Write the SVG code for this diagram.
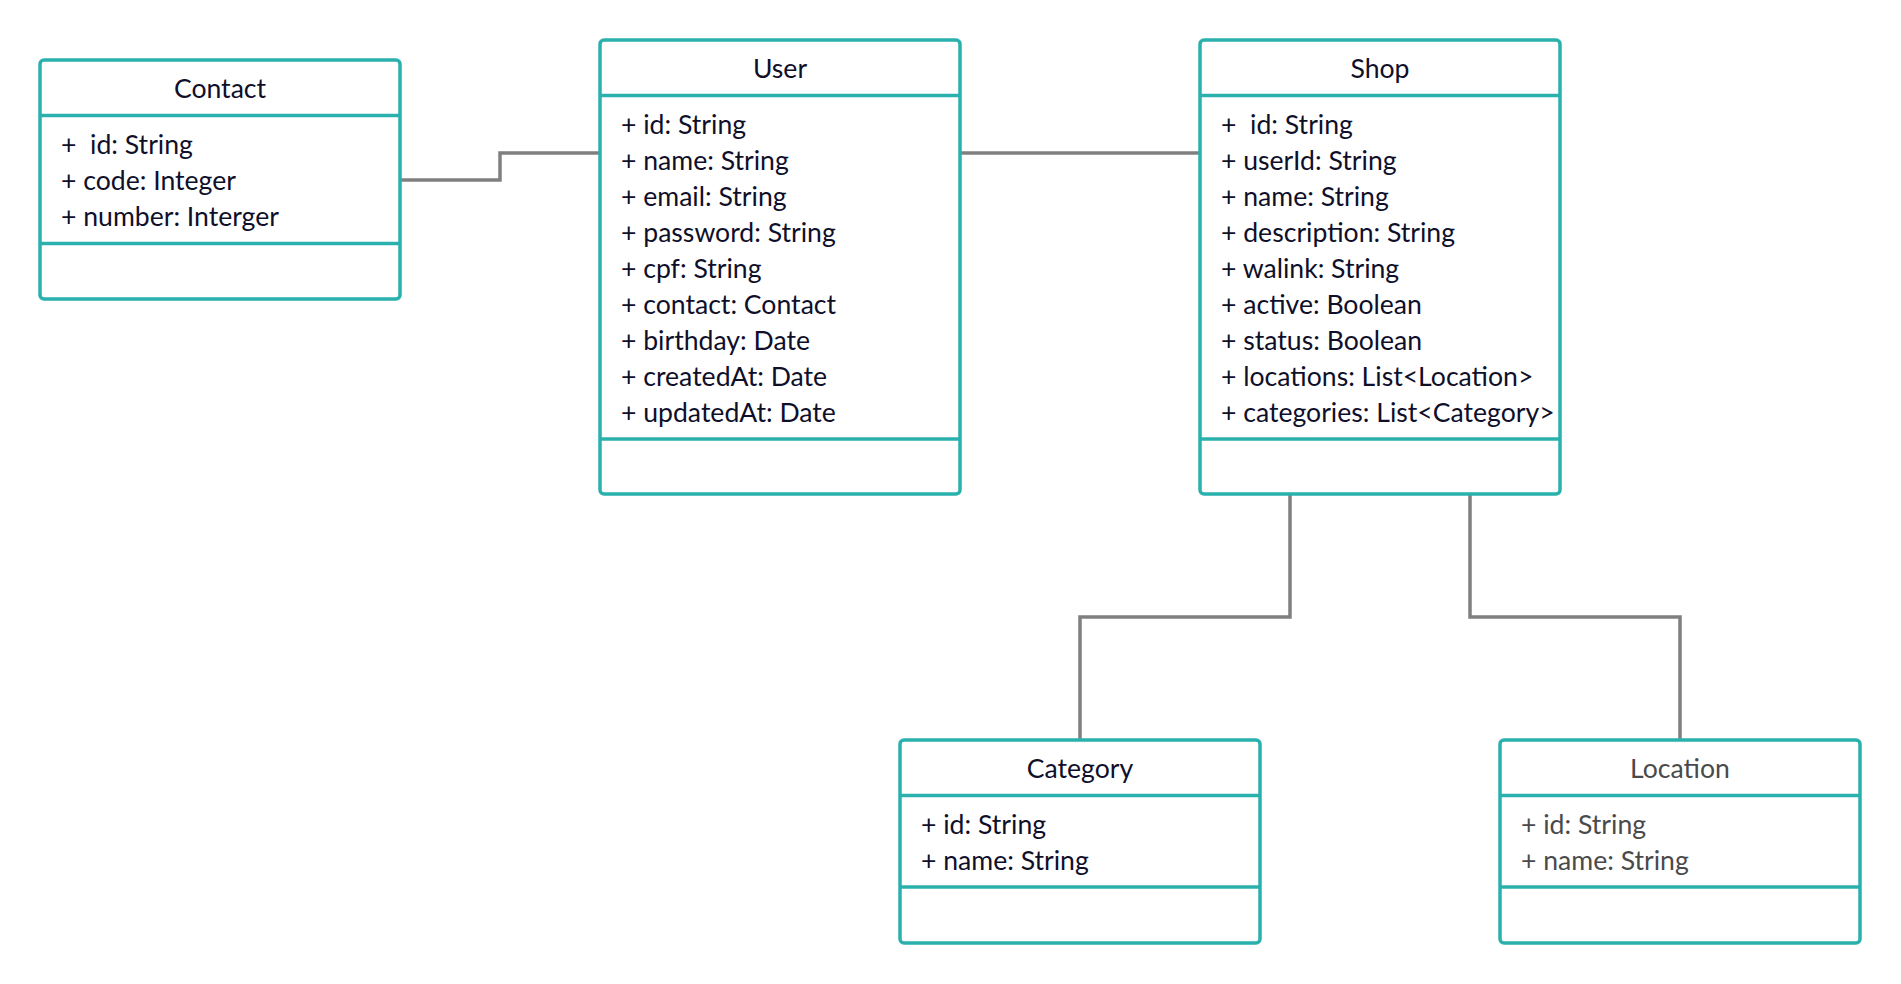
<svg xmlns="http://www.w3.org/2000/svg" width="1901" height="984" viewBox="0 0 1901 984">
<style>
.box{fill:#ffffff;stroke:#2ab1ae;stroke-width:3.5}
.div{stroke:#2ab1ae;stroke-width:3.5}
.t{font-family:Lato,"Open Sans","Liberation Sans",sans-serif;font-size:26.6px;fill:#0f0f2a}
.title{text-anchor:middle}
.g{fill:#4a4a4a}
.conn{fill:none;stroke:#808080;stroke-width:3.5;stroke-linejoin:miter}
</style>
<rect width="1901" height="984" fill="#ffffff"/>
<g id="connectors">
<path class="conn" d="M400,180 H500 V153 H600"/>
<path class="conn" d="M960,153 H1200"/>
<path class="conn" d="M1290,494 V617 H1080 V740"/>
<path class="conn" d="M1470,494 V617 H1680 V740"/>
</g>
<g id="contact">
<rect class="box" x="40" y="60" width="360" height="239" rx="4"/>
<line class="div" x1="40" y1="115.5" x2="400" y2="115.5"/>
<line class="div" x1="40" y1="243.5" x2="400" y2="243.5"/>
<text class="t title" x="220" y="98">Contact</text>
<text class="t" x="61" y="154" xml:space="preserve">+  id: String</text>
<text class="t" x="61" y="190">+ code: Integer</text>
<text class="t" x="61" y="226">+ number: Interger</text>
</g>
<g id="user">
<rect class="box" x="600" y="40" width="360" height="454" rx="4"/>
<line class="div" x1="600" y1="95.5" x2="960" y2="95.5"/>
<line class="div" x1="600" y1="439" x2="960" y2="439"/>
<text class="t title" x="780" y="78">User</text>
<text class="t" x="621" y="134">+ id: String</text>
<text class="t" x="621" y="170">+ name: String</text>
<text class="t" x="621" y="206">+ email: String</text>
<text class="t" x="621" y="242">+ password: String</text>
<text class="t" x="621" y="278">+ cpf: String</text>
<text class="t" x="621" y="314">+ contact: Contact</text>
<text class="t" x="621" y="350">+ birthday: Date</text>
<text class="t" x="621" y="386">+ createdAt: Date</text>
<text class="t" x="621" y="422">+ updatedAt: Date</text>
</g>
<g id="shop">
<rect class="box" x="1200" y="40" width="360" height="454" rx="4"/>
<line class="div" x1="1200" y1="95.5" x2="1560" y2="95.5"/>
<line class="div" x1="1200" y1="439" x2="1560" y2="439"/>
<text class="t title" x="1380" y="78">Shop</text>
<text class="t" x="1221" y="134" xml:space="preserve">+  id: String</text>
<text class="t" x="1221" y="170">+ userId: String</text>
<text class="t" x="1221" y="206">+ name: String</text>
<text class="t" x="1221" y="242">+ description: String</text>
<text class="t" x="1221" y="278">+ walink: String</text>
<text class="t" x="1221" y="314">+ active: Boolean</text>
<text class="t" x="1221" y="350">+ status: Boolean</text>
<text class="t" x="1221" y="386">+ locations: List&lt;Location&gt;</text>
<text class="t" x="1221" y="422">+ categories: List&lt;Category&gt;</text>
</g>
<g id="category">
<rect class="box" x="900" y="740" width="360" height="203" rx="4"/>
<line class="div" x1="900" y1="795.5" x2="1260" y2="795.5"/>
<line class="div" x1="900" y1="887" x2="1260" y2="887"/>
<text class="t title" x="1080" y="778">Category</text>
<text class="t" x="921" y="834">+ id: String</text>
<text class="t" x="921" y="870">+ name: String</text>
</g>
<g id="location">
<rect class="box" x="1500" y="740" width="360" height="203" rx="4"/>
<line class="div" x1="1500" y1="795.5" x2="1860" y2="795.5"/>
<line class="div" x1="1500" y1="887" x2="1860" y2="887"/>
<text class="t title g" x="1680" y="778">Location</text>
<text class="t g" x="1521" y="834">+ id: String</text>
<text class="t g" x="1521" y="870">+ name: String</text>
</g>
</svg>
